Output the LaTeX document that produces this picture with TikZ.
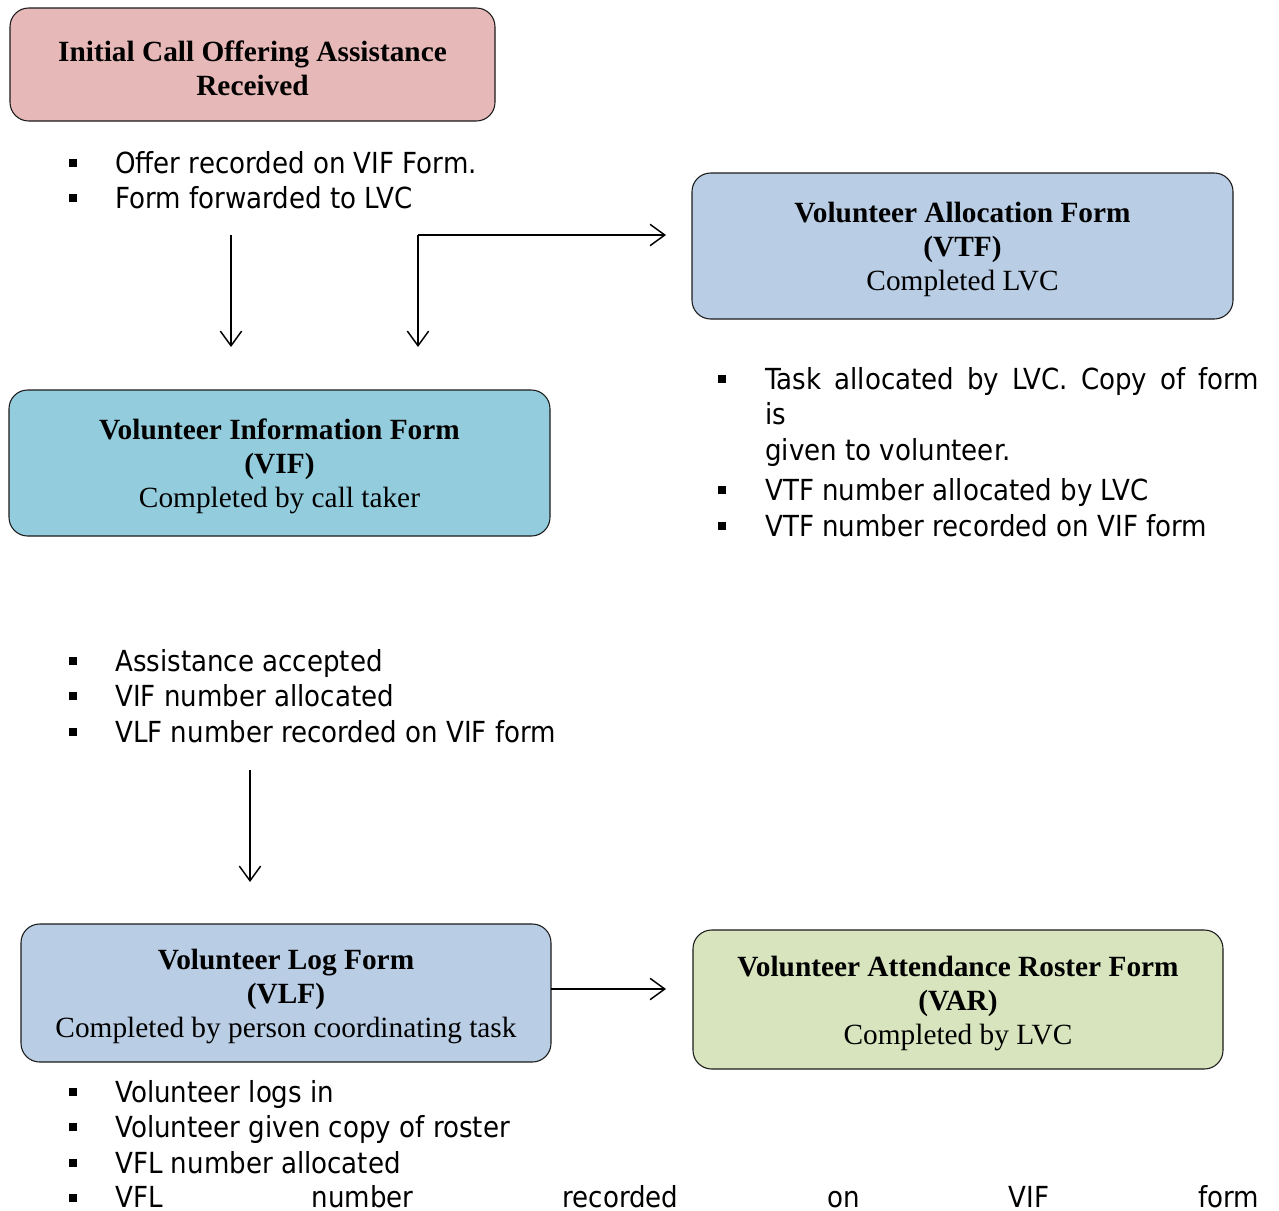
\documentclass[tikz,border=0pt]{standalone}
\usepackage{fontspec}
\setmainfont{Liberation Serif}
\newfontfamily\notefont[FakeStretch=0.9]{DejaVu Sans}
\usetikzlibrary{arrows.meta}

\definecolor{callfill}{HTML}{E6B8B7}
\definecolor{formblue}{HTML}{B9CDE5}
\definecolor{formcyan}{HTML}{93CDDD}
\definecolor{formgreen}{HTML}{D7E4BD}
\definecolor{edge}{HTML}{1A1A1A}

\tikzset{
  formbox/.style={draw=edge, line width=0.8pt, rounded corners=14pt,
    align=center, inner sep=0pt,
    font=\fontsize{22pt}{25.5pt}\selectfont},
  note/.style={anchor=base west, inner sep=0pt,
    font=\notefont\fontsize{21.75pt}{26pt}\selectfont},
  flow/.style={line width=1.1pt, -{Straight Barb[length=11pt,width=16pt,line width=1.1pt]}}
}

% taller first line, so the title block sits a little lower in its box
\newcommand{\topstrut}{\rule{0pt}{20.5pt}}
% square bullet centred at a point (px coordinates)
\newcommand{\sqbullet}[2]{\fill (#1-4,#2-4) rectangle (#1+4,#2+4);}

\begin{document}
\begin{tikzpicture}[x=0.75pt,y=-0.75pt]
\useasboundingbox (0,0) rectangle (1279,1211);

% ---- form boxes ----
\node[formbox, fill=callfill, minimum width=485*0.75pt, minimum height=113*0.75pt]
  (call) at (252.5,64.5) {\topstrut\textbf{Initial Call Offering Assistance}\\\textbf{Received}};
\node[formbox, fill=formblue, minimum width=541*0.75pt, minimum height=146*0.75pt]
  (vtf) at (962.5,246) {\topstrut\textbf{Volunteer Allocation Form}\\\textbf{(VTF)}\\Completed LVC};
\node[formbox, fill=formcyan, minimum width=541*0.75pt, minimum height=146*0.75pt]
  (vif) at (279.5,463) {\topstrut\textbf{Volunteer Information Form}\\\textbf{(VIF)}\\Completed by call taker};
\node[formbox, fill=formblue, minimum width=530*0.75pt, minimum height=138*0.75pt]
  (vlf) at (286,993) {\topstrut\textbf{Volunteer Log Form}\\\textbf{(VLF)}\\Completed by person coordinating task};
\node[formbox, fill=formgreen, minimum width=530*0.75pt, minimum height=139*0.75pt]
  (var) at (958,999.5) {\topstrut\textbf{Volunteer Attendance Roster Form}\\\textbf{(VAR)}\\Completed by LVC};

% ---- notes under the first box ----
\sqbullet{73}{163}
\node[note] (n1) at (115,173) {Offer recorded on VIF Form.};
\sqbullet{73}{198}
\node[note] (n2) at (115,208) {Form forwarded to LVC};

% ---- notes under the allocation form ----
\sqbullet{722}{379}
\node[note] (n3) at (765,389) {\hbox to 370.5pt{Task\hfill allocated\hfill by\hfill LVC.\hfill Copy\hfill of\hfill form}};
\node[note] (n3b) at (765,424.5) {is};
\node[note] (n3c) at (765,460) {given to volunteer.};
\sqbullet{722}{490}
\node[note] (n4) at (765,500) {VTF number allocated by LVC};
\sqbullet{722}{526}
\node[note] (n5) at (765,536) {VTF number recorded on VIF form};

% ---- notes under the information form ----
\sqbullet{73}{661}
\node[note] (n6) at (115,671) {Assistance accepted};
\sqbullet{73}{696}
\node[note] (n7) at (115,706) {VIF number allocated};
\sqbullet{73}{732}
\node[note] (n8) at (115,742) {VLF number recorded on VIF form};

% ---- notes under the log form ----
\sqbullet{73}{1092}
\node[note] (n9) at (115,1102) {Volunteer logs in};
\sqbullet{73}{1127}
\node[note] (n10) at (115,1137) {Volunteer given copy of roster};
\sqbullet{73}{1163}
\node[note] (n11) at (115,1173) {VFL number allocated};
\sqbullet{73}{1198}
\node[note] (n12) at (115,1207) {\hbox to 858pt{VFL\hfill number\hfill recorded\hfill on\hfill VIF\hfill form}};

% ---- connector end points ----
\coordinate (a1s) at (231,235);
\coordinate (a1e) at (231,347);
\coordinate (a2s) at (418,235);
\coordinate (a2e) at (418,347);
\coordinate (a3e) at (666,235);
\coordinate (a4s) at (250,770);
\coordinate (a4e) at (250,882);
\coordinate (a5s) at (551,989);
\coordinate (a5e) at (666,989);

% ---- connectors ----
\draw[flow] (a1s) -- (a1e);
\draw[flow] (a2s) -- (a2e);
\draw[flow] (a2s) -- (a3e);
\draw[flow] (a4s) -- (a4e);
\draw[flow] (a5s) -- (a5e);
\end{tikzpicture}
\end{document}
